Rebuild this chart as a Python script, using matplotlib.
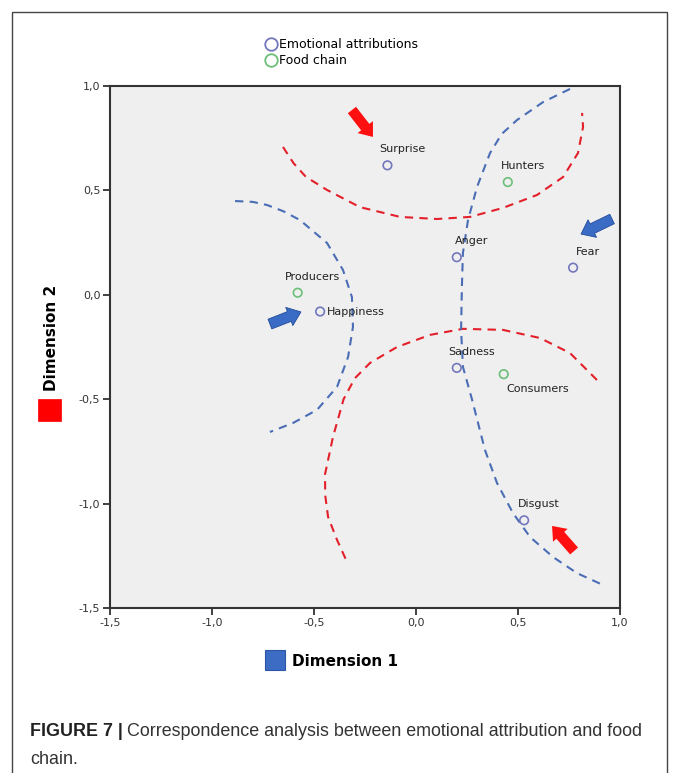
import matplotlib
matplotlib.use('Agg')
import matplotlib.pyplot as plt
from matplotlib.lines import Line2D
from matplotlib.patches import Rectangle

# points
emo_names = ['Surprise', 'Anger', 'Fear', 'Happiness', 'Sadness', 'Disgust']
emo_x = [-0.14, 0.20, 0.77, -0.47, 0.20, 0.53]
emo_y = [0.62, 0.18, 0.13, -0.08, -0.35, -1.08]

food_names = ['Hunters', 'Producers', 'Consumers']
food_x = [0.45, -0.58, 0.43]
food_y = [0.54, 0.01, -0.38]

ticks_x = [-1.5, -1.0, -0.5, 0.0, 0.5, 1.0]
ticks_y = [-1.5, -1.0, -0.5, 0.0, 0.5, 1.0]
tick_labels = ['-1,5', '-1,0', '-0,5', '0,0', '0,5', '1,0']

# hand drawn dashed curves (data coords)
red_top_x = [-0.652, -0.600, -0.540, -0.436, -0.275, -0.078, 0.103, 0.265, 0.426, 0.593, 0.721, 0.794, 0.819, 0.814]
red_top_y = [0.708, 0.630, 0.565, 0.502, 0.420, 0.373, 0.363, 0.373, 0.416, 0.478, 0.564, 0.679, 0.804, 0.871]
red_bot_x = [0.887, 0.755, 0.608, 0.426, 0.230, 0.069, -0.093, -0.225, -0.300, -0.355, -0.407, -0.446, -0.445, -0.431, -0.387, -0.338]
red_bot_y = [-0.408, -0.279, -0.207, -0.168, -0.163, -0.192, -0.250, -0.326, -0.400, -0.500, -0.681, -0.860, -0.960, -1.064, -1.174, -1.280]
blue_right_x = [0.755, 0.623, 0.495, 0.420, 0.363, 0.299, 0.255, 0.230, 0.225, 0.221, 0.230, 0.275, 0.338, 0.397, 0.475, 0.559, 0.672, 0.789, 0.917]
blue_right_y = [0.986, 0.923, 0.837, 0.770, 0.679, 0.516, 0.358, 0.200, 0.037, -0.168, -0.345, -0.503, -0.743, -0.901, -1.045, -1.160, -1.256, -1.333, -1.390]
blue_left_x = [-0.887, -0.800, -0.730, -0.650, -0.569, -0.436, -0.358, -0.314, -0.309, -0.333, -0.387, -0.485, -0.603, -0.716]
blue_left_y = [0.449, 0.445, 0.430, 0.400, 0.358, 0.248, 0.119, -0.011, -0.154, -0.298, -0.441, -0.551, -0.614, -0.657]

# arrows: (tail, tip)
red_arrows = [((-0.314, 0.885), (-0.211, 0.756)), ((0.775, -1.227), (0.667, -1.107))]
blue_arrows = [((-0.716, -0.140), (-0.564, -0.082)), ((0.961, 0.363), (0.809, 0.291))]

c_emo = '#7477bd'
c_food = '#6cbf78'
c_red = '#e3202a'
c_blue = '#4a6db5'

W, H = 675, 773
fig = plt.figure(figsize=(W / 100, H / 100), dpi=100)
ax = fig.add_axes([110 / W, 1 - 608 / H, 510 / W, 522 / H])
ax.set_facecolor('#efefef')

for xs, ys, col in [(red_top_x, red_top_y, c_red), (red_bot_x, red_bot_y, c_red),
                    (blue_right_x, blue_right_y, c_blue), (blue_left_x, blue_left_y, c_blue)]:
    ax.plot(xs, ys, color=col, lw=1.5, dashes=(4, 3), solid_joinstyle='round', dash_joinstyle='round')

ax.scatter(emo_x, emo_y, s=38, facecolors='none', edgecolors=c_emo, linewidths=1.2, zorder=3)
ax.scatter(food_x, food_y, s=38, facecolors='none', edgecolors=c_food, linewidths=1.2, zorder=3)

# label offsets in pixels (dx, dy), default above right
offsets = {'Happiness': (7, 0, 'left'), 'Consumers': (34, -15, 'center')}
for names, xs, ys in [(emo_names, emo_x, emo_y), (food_names, food_x, food_y)]:
    for n, x, y in zip(names, xs, ys):
        dx, dy, ha = offsets.get(n, (15, 16, 'center'))
        ax.annotate(n, (x, y), xytext=(dx * 0.72, dy * 0.72), textcoords='offset points',
                    ha=ha, va='center', fontsize=8, color='#222222')

for tail, tip in red_arrows:
    ax.annotate('', xy=tip, xytext=tail,
                arrowprops=dict(arrowstyle='simple,head_length=0.9,head_width=1.4,tail_width=0.75',
                                color='#ff1010', lw=0, shrinkA=0, shrinkB=0))
for tail, tip in blue_arrows:
    ax.annotate('', xy=tip, xytext=tail,
                arrowprops=dict(arrowstyle='simple,head_length=0.9,head_width=1.4,tail_width=0.75',
                                facecolor='#3a6cc6', edgecolor='#1f4a9a', lw=0.6, shrinkA=0, shrinkB=0))

ax.set_xlim(-1.5, 1.0)
ax.set_ylim(-1.5, 1.0)
ax.set_xticks(ticks_x)
ax.set_yticks(ticks_y)
ax.set_xticklabels(tick_labels)
ax.set_yticklabels(tick_labels)
ax.tick_params(direction='out', length=5, width=1.3, labelsize=8, colors='#333333', pad=2)
for sp in ax.spines.values():
    sp.set_color('#333333')
    sp.set_linewidth(1.5)

# axis titles with coloured squares
fig.text(292 / W, 1 - 662 / H, 'Dimension 1', fontsize=11, fontweight='bold', va='center', ha='left')
fig.patches.append(Rectangle((265 / W, 1 - 670 / H), 20 / W, 20 / H, transform=fig.transFigure,
                             facecolor='#3c6cc4', edgecolor='#2c55a8', lw=0.8))
fig.text(52 / W, 1 - 338 / H, 'Dimension 2', fontsize=11, fontweight='bold', va='center', ha='center',
         rotation=90)
fig.patches.append(Rectangle((38 / W, 1 - 421 / H), 23 / W, 22 / H, transform=fig.transFigure,
                             facecolor='#ff0000', edgecolor='#ff0000', lw=0.5))

# legend
handles = [Line2D([], [], ls='none', marker='o', ms=9, mfc='none', mec=c_emo, mew=1.3),
           Line2D([], [], ls='none', marker='o', ms=9, mfc='none', mec=c_food, mew=1.3)]
fig.legend(handles, ['Emotional attributions', 'Food chain'], loc='upper left',
           bbox_to_anchor=(258 / W, 1 - 32 / H), frameon=False, fontsize=9,
           handlelength=1.0, handletextpad=0.2, labelspacing=0.25, borderpad=0)

# outer frame
fig.patches.append(Rectangle((12 / W, -0.01), 655 / W, 1.01 - 12 / H, transform=fig.transFigure,
                             fill=False, edgecolor='#444444', lw=1))

# caption
cap_size = 12.9
t1 = fig.text(30 / W, 1 - 736 / H, 'FIGURE 7 |', fontsize=cap_size, fontweight='bold',
              family='Liberation Sans', color='#222222', va='baseline')
fig.canvas.draw()
bb = t1.get_window_extent(renderer=fig.canvas.get_renderer())
fig.text(bb.x1 / W + 4 / W, 1 - 736 / H, 'Correspondence analysis between emotional attribution and food',
         fontsize=cap_size, family='Liberation Sans', color='#333333', va='baseline')
fig.text(30 / W, 1 - 764 / H, 'chain.', fontsize=cap_size, family='Liberation Sans', color='#333333',
         va='baseline')

fig.savefig('out.png', dpi=100)
